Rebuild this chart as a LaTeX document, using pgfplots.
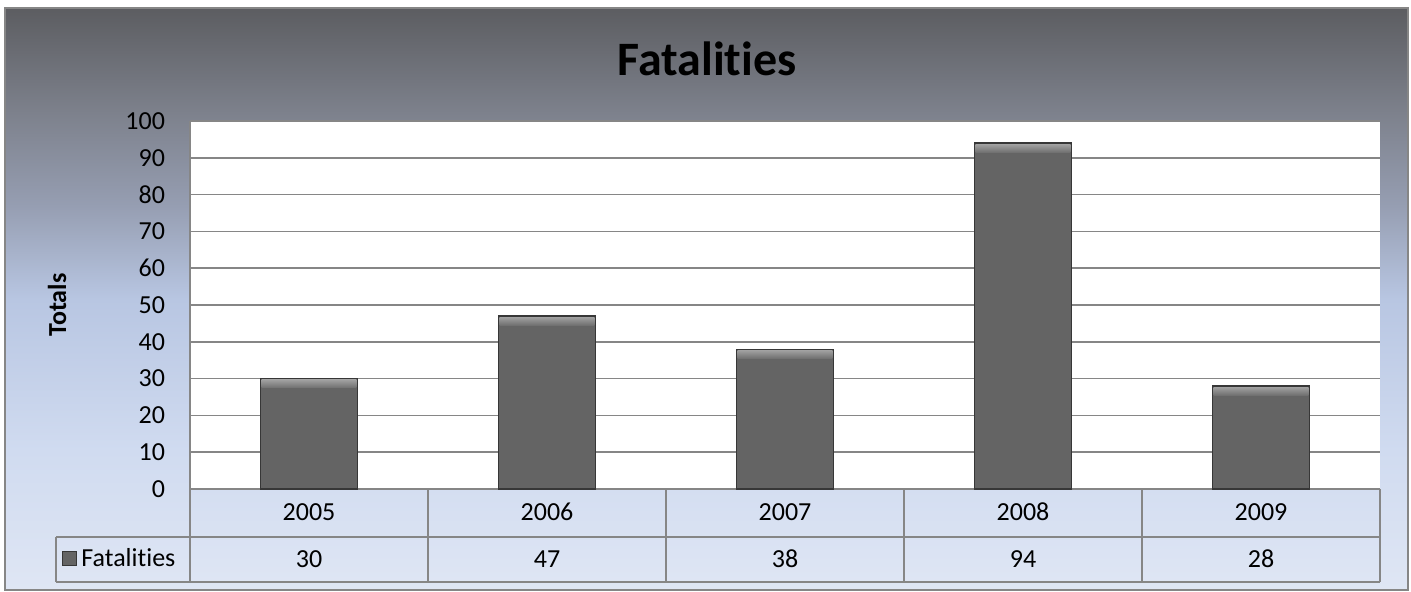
\documentclass[border=0pt]{standalone}
\usepackage{fontspec}
\setmainfont{Carlito}[Ligatures={NoCommon}, Numbers=Lining]
\usepackage{pgfplots}
\usepackage{pgfplotstable}
\pgfplotsset{compat=1.18}

\definecolor{bg0}{RGB}{223,230,244}
\definecolor{bg1}{RGB}{208,219,240}
\definecolor{bg2}{RGB}{184,198,226}
\definecolor{bg3}{RGB}{150,158,178}
\definecolor{bg4}{RGB}{125,129,140}
\definecolor{bg5}{RGB}{92,93,97}
\definecolor{gridc}{RGB}{134,134,134}
\definecolor{barfill}{RGB}{100,100,100}
\definecolor{baredge}{RGB}{55,55,55}
\definecolor{barlightA}{RGB}{160,160,160}
\definecolor{barlightB}{RGB}{112,112,112}

\pgfdeclareverticalshading{bgshade}{100bp}{color(0bp)=(bg0); color(25bp)=(bg0); color(37bp)=(bg1); color(50bp)=(bg2); color(58bp)=(bg3); color(66bp)=(bg4); color(75bp)=(bg5); color(100bp)=(bg5)}

\pgfplotstableread{
x year value
0 2005 30
1 2006 47
2 2007 38
3 2008 94
4 2009 28
}\data

\begin{document}
\begin{tikzpicture}[x=0.5pt,y=0.5pt]
\fill[white] (0,0) rectangle (1411,591);
\shade[shading=bgshade] (5,1) rectangle (1408,583);
\draw[gridc, line width=1pt] (5,1) rectangle (1408,583);
\begin{axis}[
  at={(95pt,51pt)}, anchor=south west,
  scale only axis, width=595pt, height=184pt,
  xmin=-0.5, xmax=4.5, ymin=0, ymax=100,
  ytick={0,10,...,100}, xtick={0,...,4},
  xticklabels from table={\data}{year},
  axis background/.style={fill=white},
  axis lines*=left,
  axis line style={draw=gridc, line width=1pt, -},
  major tick length=0pt,
  ymajorgrids,
  major grid style={draw=gridc, line width=0.8pt},
  /pgf/number format/assume math mode=true,
  tick label style={font=\fontsize{13}{15}\selectfont, text=black},
  yticklabel style={xshift=-9pt},
  xticklabel style={anchor=base, yshift=-15.75pt},
  clip=false,
  every axis title/.style={at={(0.5,1)}, anchor=base, xshift=-39pt, yshift=23pt, font=\fontsize{24}{28}\selectfont\bfseries},
  title={Fatalities},
  every axis y label/.style={at={(0,0.5)}, xshift=-66.5pt, rotate=90, anchor=center, font=\fontsize{13}{15}\selectfont\bfseries},
  ylabel={Totals},
  legend style={at={(0,0)}, anchor=west, xshift=-64pt, yshift=-34.75pt, draw=none, fill=none, inner sep=0pt, font=\fontsize{13}{15}\selectfont},
  legend cell align=left,
]
\addplot[ybar, bar width=48.5pt, fill=barfill, draw=baredge, line width=0.6pt,
  nodes near coords={},
  nodes near coords style={anchor=north, yshift=-0.3pt, shape=rectangle,
    minimum width=47.4pt, minimum height=4pt,
    inner sep=0pt, top color=barlightA, bottom color=barlightB, draw=none},
  legend image code/.code={\draw[fill=barfill, draw=baredge, line width=0.5pt] (0pt,-3.5pt) rectangle (7pt,3.5pt);}
] table[x=x, y=value] {\data};
\addlegendentry{Fatalities}
\addplot[draw=none, mark=none, forget plot, nodes near coords, point meta=explicit,
  nodes near coords style={anchor=base, yshift=-39pt, font=\fontsize{13}{15}\selectfont, text=black}]
  table[x=x, y expr=0, meta=value] {\data};
\end{axis}
\begin{scope}[gridc, line width=1pt]
\draw (56,54) -- (1380,54);
\draw (56,9) -- (1380,9);
\draw (56,54) -- (56,9);
\foreach \xx in {190,428,666,904,1142,1380} { \draw (\xx,102) -- (\xx,9); }
\end{scope}
\end{tikzpicture}
\end{document}
